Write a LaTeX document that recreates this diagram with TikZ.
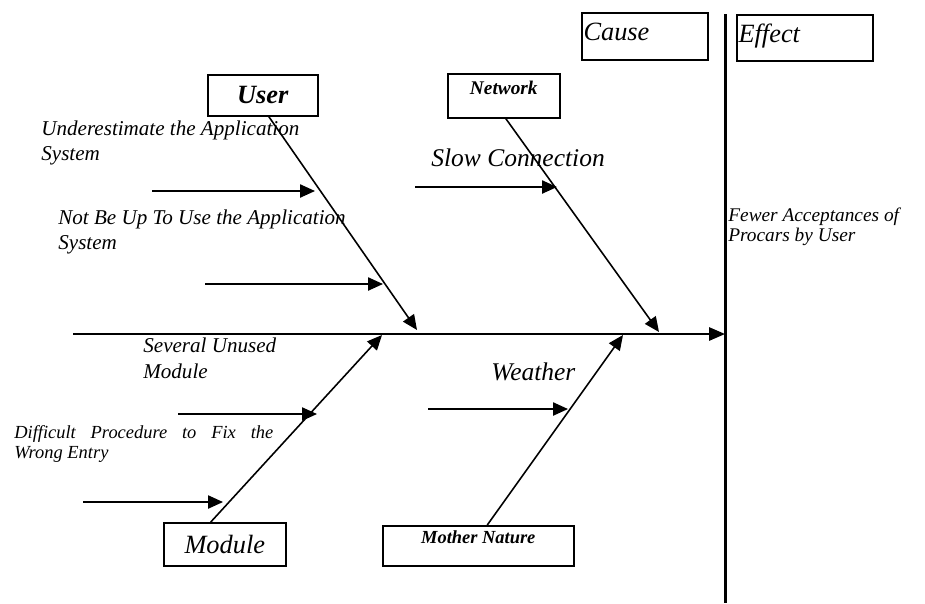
\documentclass[tikz,border=0pt]{standalone}
\usepackage{fontspec}
\setmainfont{Liberation Serif}
\usetikzlibrary{arrows.meta,calc}

\tikzset{
  fishbox/.style={draw,line width=0.9pt,anchor=north west,inner sep=2pt},
  bone/.style={line width=0.9pt,-{Triangle[length=8.5pt,width=7.5pt]}},
  spine/.style={line width=1.1pt,-{Triangle[length=9pt,width=7.5pt]}},
  note/.style={anchor=north west,inner sep=0pt,align=left},
}
\newcommand{\fs}[2]{\fontsize{#1}{#2}\selectfont}

\begin{document}
\begin{tikzpicture}[x=0.02cm,y=-0.02cm]
  \useasboundingbox (0,0) rectangle (925,603);

  % headings
  \node[fishbox,inner xsep=1pt,minimum width=2.52cm,minimum height=0.94cm,text width=2.45cm,text depth=5pt,align=left,font=\itshape\fs{15}{17}] (cause) at (581,12) {Cause};
  \node[fishbox,inner xsep=1pt,minimum width=2.72cm,minimum height=0.92cm,text width=2.65cm,text depth=5pt,align=left,font=\itshape\fs{15}{17}] (effect) at (736,14) {Effect};

  % category boxes
  \node[fishbox,minimum width=2.2cm,minimum height=0.82cm,font=\bfseries\itshape\fs{15}{17}] (user) at (207,74) {User};
  \node[fishbox,minimum width=2.24cm,minimum height=0.88cm,
        label={[anchor=north,inner sep=4.5pt,font=\bfseries\itshape\fs{11}{13}]north:Network}] (network) at (447,73) {};
  \node[fishbox,minimum width=2.44cm,minimum height=0.86cm,font=\itshape\fs{15}{17}] (module) at (163,522) {Module};
  \node[fishbox,minimum width=3.82cm,minimum height=0.8cm,
        label={[anchor=north,inner sep=3pt,font=\bfseries\itshape\fs{10.5}{12}]north:Mother Nature}] (nature) at (382,525) {};

  % spine and effect line
  \coordinate (tail) at (73,334);
  \coordinate (head) at (725,334);
  \coordinate (etop) at (725.5,14);
  \coordinate (ebot) at (725.5,603);
  \draw[line width=1.4pt] (etop) -- (ebot);
  \draw[spine] (tail) -- (head);

  % main bones
  \coordinate (uTip) at (417,330);
  \coordinate (nTip) at (659,332);
  \coordinate (mTip) at (382,335);
  \coordinate (wTip) at (623,335);
  \draw[bone] ([xshift=0.12cm]user.south) -- (uTip);
  \draw[bone] ([xshift=0.04cm]network.south) -- (nTip);
  \draw[bone] ([xshift=-0.28cm]module.north) -- (mTip);
  \draw[bone] ([xshift=0.18cm]nature.north) -- (wTip);

  % causes
  \coordinate (u1) at (152,191); \coordinate (u1e) at (315,191);
  \coordinate (u2) at (205,284); \coordinate (u2e) at (383,284);
  \coordinate (n1) at (415,187); \coordinate (n1e) at (557,187);
  \coordinate (m1) at (178,414); \coordinate (m1e) at (317,414);
  \coordinate (m2) at (83,502);  \coordinate (m2e) at (223,502);
  \coordinate (w1) at (428,409); \coordinate (w1e) at (568,409);
  \foreach \a/\b in {u1/u1e,u2/u2e,n1/n1e,m1/m1e,m2/m2e,w1/w1e}
    \draw[bone] (\a) -- (\b);

  % labels
  \node[note,font=\itshape\fs{12}{14.2}] (lu1) at (41,120.5) {Underestimate the Application\\System};
  \node[note,font=\itshape\fs{12}{14.2}] (lu2) at (58,209.5) {Not Be Up To Use the Application\\System};
  \node[note,font=\itshape\fs{12}{14.7}] (lm1) at (143,337.5) {Several Unused\\Module};
  \node[note,align=justify,text width=5.18cm,font=\itshape\fs{10.5}{11.3}] (lm2) at (14,425.5) {Difficult Procedure to Fix the Wrong Entry};
  \node[note,font=\itshape\fs{11}{11.3}] (leff) at (728,207.5) {Fewer Acceptances of\\Procars by User};
  \node[anchor=west,inner sep=0pt,font=\itshape\fs{14.5}{16}] (ln1) at (431,158) {Slow Connection};
  \node[anchor=west,inner sep=0pt,font=\itshape\fs{14.5}{16}] (lw1) at (491,372) {Weather};
\end{tikzpicture}
\end{document}
